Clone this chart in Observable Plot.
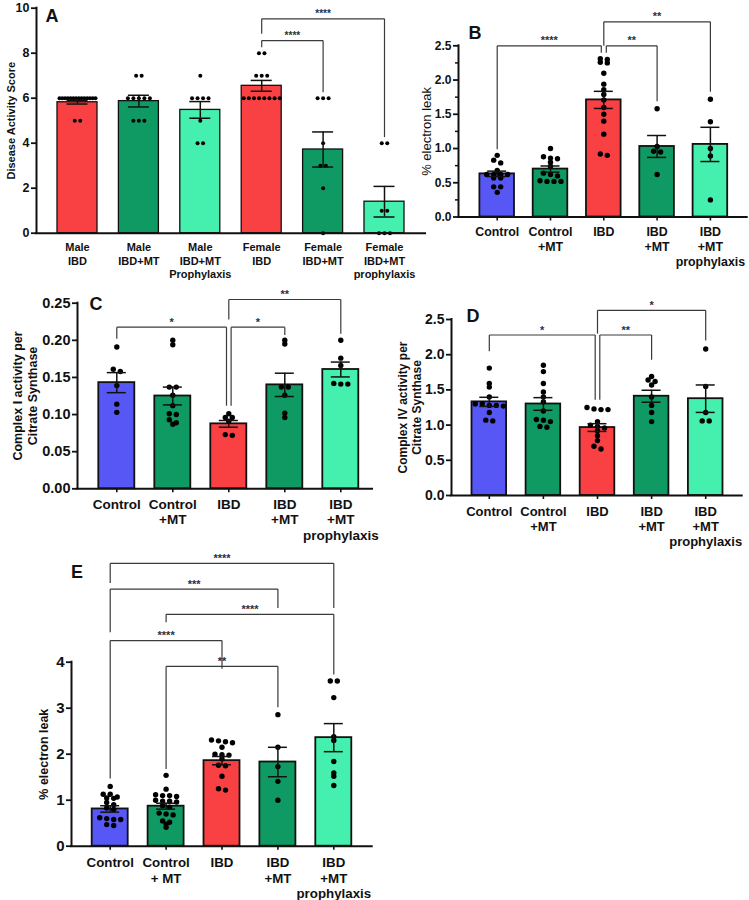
<!DOCTYPE html>
<html><head><meta charset="utf-8">
<script src="https://cdn.jsdelivr.net/npm/d3@7"></script>
<script src="https://cdn.jsdelivr.net/npm/@observablehq/plot@0.6"></script>
<style>
body{margin:0;background:#fff;font-family:"Liberation Sans",Arial,sans-serif;}
#root{position:relative;width:749px;height:900px;overflow:hidden;background:#fff;}
.panel{position:absolute;}
.letter{position:absolute;font:bold 18px "Liberation Sans",Arial,sans-serif;color:#111;transform:translate(-50%,-50%);line-height:1;}
</style></head><body><div id="root"></div>
<script>
// ---------- colours ----------
const RED = "#F94144", DKG = "#0E9A62", LTG = "#45EFAE", BLUE = "#5757F6";

// ---------- Panel A ----------
const catsA = ["Male\nIBD", "Male\nIBD+MT", "Male\nIBD+MT\nProphylaxis", "Female\nIBD", "Female\nIBD+MT", "Female\nIBD+MT\nprophylaxis"];
const meanA = [5.82, 5.87, 5.48, 6.55, 3.72, 1.40];
const semA = [0.08, 0.26, 0.37, 0.24, 0.78, 0.68];
const ptsA = [
  [6, 6, 6, 6, 6, 6, 6, 6, 6, 6, 6, 6, 6, 6, 5, 5],
  [7, 7, 6, 6, 6, 6, 6, 5, 5, 5],
  [7, 6, 6, 6, 6, 5, 4, 4],
  [8, 8, 7, 7, 7, 6, 6, 6, 6, 6, 6, 6, 6],
  [6, 6, 6, 4, 3, 3, 2, 0],
  [4, 4, 1, 1, 0, 0, 0]
];
const colorsA = [RED, DKG, LTG, RED, DKG, LTG];
const ticksA = [0, 2, 4, 6, 8, 10];
const compA = [
  {a: 3, b: 5, y: 9.53, ya: 8.86, yb: 4.27, label: "****"},
  {a: 3, b: 4, y: 8.56, ya: 8.27, yb: 6.27, label: "****"}
];

// ---------- Panel B ----------
const catsB = ["Control", "Control\n+MT", "IBD", "IBD\n+MT", "IBD\n+MT\nprophylaxis"];
const meanB = [0.63, 0.70, 1.71, 1.03, 1.06];
const semB = [0.04, 0.045, 0.125, 0.16, 0.25];
const ptsB = [
  [0.90, 0.83, 0.79, 0.68, 0.62, 0.62, 0.62, 0.62, 0.57, 0.57, 0.44, 0.44, 0.36],
  [1.00, 0.88, 0.86, 0.85, 0.80, 0.74, 0.64, 0.62, 0.60, 0.53, 0.52, 0.52, 0.52],
  [2.31, 2.30, 2.26, 2.25, 2.10, 1.94, 1.86, 1.79, 1.71, 1.60, 1.50, 1.40, 1.21, 0.92, 0.90],
  [1.58, 1.03, 0.96, 0.95, 0.62],
  [1.72, 1.39, 1.00, 0.89, 0.25]
];
const colorsB = [BLUE, DKG, RED, DKG, LTG];
const ticksB = [0, 0.5, 1.0, 1.5, 2.0, 2.5];
const minorB = [0.25, 0.75, 1.25, 1.75, 2.25];
const compB = [
  {a: 0, b: 2, y: 2.5, ya: 0.99, yb: 2.40, sa: 0, sb: -1, label: "****"},
  {a: 2, b: 3, y: 2.5, ya: 2.40, yb: 1.69, sa: 1, sb: 0, label: "**"},
  {a: 2, b: 4, y: 2.85, ya: 2.5, yb: 1.83, label: "**"}
];

// ---------- Panel C ----------
const catsC = ["Control", "Control\n+MT", "IBD", "IBD\n+MT", "IBD\n+MT\nprophylaxis"];
const meanC = [0.143, 0.125, 0.0875, 0.140, 0.1607];
const semC = [0.0135, 0.012, 0.0045, 0.0157, 0.010];
const ptsC = [
  [0.191, 0.161, 0.158, 0.139, 0.114, 0.103],
  [0.200, 0.194, 0.137, 0.137, 0.126, 0.112, 0.101, 0.100, 0.093, 0.089, 0.087],
  [0.101, 0.096, 0.096, 0.091, 0.073, 0.072],
  [0.200, 0.195, 0.137, 0.137, 0.126, 0.102, 0.096],
  [0.200, 0.176, 0.166, 0.142, 0.141, 0.141]
];
const colorsC = [BLUE, DKG, RED, DKG, LTG];
const ticksC = [0, 0.05, 0.10, 0.15, 0.20, 0.25];
const compC = [
  {a: 0, b: 2, y: 0.2177, ya: 0.202, yb: 0.112, sa: 0, sb: -1, label: "*"},
  {a: 2, b: 3, y: 0.2177, ya: 0.112, yb: 0.207, sa: 1, sb: 0, label: "*"},
  {a: 2, b: 4, y: 0.255, ya: 0.228, yb: 0.209, label: "**"}
];

// ---------- Panel D ----------
const catsD = ["Control", "Control\n+MT", "IBD", "IBD\n+MT", "IBD\n+MT\nprophylaxis"];
const meanD = [1.33, 1.30, 0.965, 1.41, 1.375];
const semD = [0.065, 0.09, 0.055, 0.085, 0.195];
const ptsD = [
  [1.81, 1.59, 1.54, 1.40, 1.30, 1.28, 1.27, 1.28, 1.30, 1.18, 1.07, 1.06],
  [1.85, 1.76, 1.59, 1.47, 1.40, 1.33, 1.20, 1.08, 1.07, 1.05, 0.98, 0.97],
  [1.25, 1.22, 1.23, 1.22, 1.05, 1.00, 0.98, 0.96, 0.92, 0.85, 0.78, 0.70, 0.66],
  [1.69, 1.64, 1.62, 1.57, 1.40, 1.28, 1.18, 1.05],
  [2.08, 1.55, 1.18, 1.06, 1.06]
];
const colorsD = [BLUE, DKG, RED, DKG, LTG];
const ticksD = [0, 0.5, 1.0, 1.5, 2.0, 2.5];
const compD = [
  {a: 0, b: 2, y: 2.28, ya: 2.05, yb: 1.36, sa: 0, sb: -1, label: "*"},
  {a: 2, b: 3, y: 2.28, ya: 1.36, yb: 1.93, sa: 1, sb: 0, label: "**"},
  {a: 2, b: 4, y: 2.63, ya: 2.30, yb: 2.20, label: "*"}
];

// ---------- Panel E ----------
const catsE = ["Control", "Control\n+ MT", "IBD", "IBD\n+MT", "IBD\n+MT\nprophylaxis"];
const meanE = [0.81, 0.87, 1.86, 1.83, 2.36];
const semE = [0.07, 0.065, 0.09, 0.32, 0.305];
const ptsE = [
  [1.30, 1.13, 1.13, 1.07, 1.05, 1.04, 0.95, 0.90, 0.83, 0.80, 0.62, 0.60, 0.58, 0.58, 0.47, 0.45],
  [1.54, 1.24, 1.12, 1.10, 1.10, 1.08, 1.00, 0.98, 0.98, 0.96, 0.88, 0.85, 0.72, 0.70, 0.68, 0.55, 0.52, 0.48, 0.41],
  [2.31, 2.29, 2.27, 2.25, 2.15, 2.00, 1.99, 1.98, 1.90, 1.76, 1.75, 1.52, 1.25, 1.22],
  [2.86, 2.15, 1.73, 1.41, 1.00],
  [3.59, 3.59, 3.23, 2.38, 2.30, 1.84, 1.59, 1.52, 1.32]
];
const colorsE = [BLUE, DKG, RED, DKG, LTG];
const ticksE = [0, 1, 2, 3, 4];
const compE = [
  {a: 0, b: 4, y: 6.15, ya: 5.72, yb: 5.18, label: "****"},
  {a: 0, b: 3, y: 5.59, ya: 4.65, yb: 5.18, label: "***"},
  {a: 1, b: 4, y: 5.04, ya: 4.87, yb: 3.73, label: "****"},
  {a: 0, b: 2, y: 4.47, ya: 1.47, yb: 3.86, label: "****"},
  {a: 1, b: 3, y: 3.91, ya: 1.68, yb: 3.02, label: "**"}
];

// ---------- rendering ----------
const FONT = '"Liberation Sans", Arial, Helvetica, sans-serif';

function swarm(vals, gi, pxPerUnit, stepPx, spacingPx, maxWidthPx, tolPx) {
  const sorted = vals.slice().sort((a, b) => b - a);
  const rows = [];
  for (const v of sorted) {
    const last = rows[rows.length - 1];
    if (last && (last.top - v) * pxPerUnit <= tolPx) last.items.push(v);
    else rows.push({top: v, items: [v]});
  }
  const out = [];
  for (const row of rows) {
    const m = row.items.length;
    const sp = m > 1 ? Math.min(spacingPx, maxWidthPx / (m - 1)) : 0;
    row.items.forEach((v, j) => out.push({x: gi + ((j - (m - 1) / 2) * sp) / stepPx, v}));
  }
  return out;
}

function drawPanel(p) {
  const L = p.layout;
  const n = p.cats.length;
  const lo = (L.axisLeft - L.c0) / L.step;
  const hi = (L.axisRight - L.c0) / L.step;
  const yMax = p.ticks[p.ticks.length - 1];
  const pxPerUnit = (L.y0px - L.yTopPx) / yMax;
  const hw = L.barHalf / L.step;
  const cw = L.capHalf / L.step;
  const bars = p.cats.map((c, i) => ({i, mean: p.means[i], sem: p.sems[i], color: p.colors[i]}));
  const dots = p.points.flatMap((vals, i) => swarm(vals, i, pxPerUnit, L.step, L.dotSpacing, L.barHalf * 1.8, L.tol));
  const gap = (L.legGap || 0) / L.step;
  const segs = [];
  const stars = [];
  p.comps.forEach(c => {
    const xa = c.a + (c.sa || 0) * gap, xb = c.b + (c.sb || 0) * gap;
    segs.push({x1: xa, y1: c.ya, x2: xa, y2: c.y});
    segs.push({x1: xa, y1: c.y, x2: xb, y2: c.y});
    segs.push({x1: xb, y1: c.y, x2: xb, y2: c.yb});
    stars.push({x: (xa + xb) / 2, y: c.y, label: c.label});
  });
  const marks = [
    Plot.rect(bars, {x1: d => d.i - hw, x2: d => d.i + hw, y1: 0, y2: "mean", fill: "color", stroke: "#111", strokeWidth: L.barStroke}),
    Plot.dot(dots, {x: "x", y: "v", r: L.dotR, fill: "#000", stroke: "none"}),
    Plot.ruleX(bars, {x: "i", y1: d => d.mean - d.sem, y2: d => d.mean + d.sem, stroke: "#111", strokeWidth: 1.5}),
    Plot.ruleY(bars, {y: d => d.mean + d.sem, x1: d => d.i - cw, x2: d => d.i + cw, stroke: "#111", strokeWidth: 1.5}),
    Plot.ruleY(bars, {y: d => d.mean - d.sem, x1: d => d.i - cw, x2: d => d.i + cw, stroke: "#111", strokeWidth: 1.5}),
    Plot.link(segs, {x1: "x1", y1: "y1", x2: "x2", y2: "y2", stroke: "#3a3a3a", strokeWidth: 1.2}),
    Plot.text(stars, {x: "x", y: "y", text: "label", dy: L.starDy, fontSize: L.starSize, fontWeight: "bold", fill: "#2b2f45", ariaLabel: "stars"}),
    Plot.axisY({ticks: p.ticks, tickFormat: p.tickFormat, tickSize: 5, tickPadding: 2, strokeWidth: 1.8, fontSize: L.tickFont, fontWeight: "bold", label: null}),
    Plot.axisX({ticks: d3.range(n), tickFormat: i => p.cats[i], tickSize: L.xTickSize, tickPadding: L.xTickPad, strokeWidth: 1.6, fontSize: L.catFont, fontWeight: "bold", lineHeight: L.lineHeight, label: null}),
    Plot.ruleY([0], {stroke: "#111", strokeWidth: 2, strokeLinecap: "square"}),
    Plot.ruleX([lo], {stroke: "#111", strokeWidth: 2, strokeLinecap: "square"}),
    Plot.text([p.yTitle], {frameAnchor: "left", text: d => d, rotate: -90, textAnchor: "middle", lineAnchor: "middle", dx: L.titleX - L.axisLeft, fontSize: L.titleFont, fontWeight: L.titleWeight, lineHeight: 1.2})
  ];
  if (p.minor) marks.push(Plot.axisY({ticks: p.minor, tickSize: 3, strokeWidth: 1.5, tickFormat: () => "", label: null}));
  const svg = Plot.plot({
    width: L.width, height: L.height,
    marginLeft: L.axisLeft - L.left, marginRight: L.left + L.width - L.axisRight,
    marginTop: L.yTopPx - L.top, marginBottom: L.top + L.height - L.y0px,
    x: {type: "linear", domain: [lo, hi]},
    y: {type: "linear", domain: [0, yMax]},
    color: {type: "identity"},
    style: {background: "none", overflow: "visible", fontFamily: FONT, color: "#111"},
    marks
  });
  svg.querySelectorAll('g[aria-label="stars"] text').forEach(t => t.setAttribute("letter-spacing", L.starSpacing + "px"));
  const div = document.createElement("div");
  div.className = "panel";
  div.style.left = L.left + "px";
  div.style.top = L.top + "px";
  div.style.width = L.width + "px";
  div.appendChild(svg);
  document.getElementById("root").appendChild(div);
  const letter = document.createElement("div");
  letter.className = "letter";
  letter.textContent = p.letter;
  letter.style.left = L.letterX + "px";
  letter.style.top = L.letterY + "px";
  document.getElementById("root").appendChild(letter);
}

const common = {barStroke: 1.8, dotR: 2.7, dotSpacing: 7, tol: 3, capHalf: 9.5, xTickSize: 4, starSize: 11, starDy: -5, starSpacing: 2, titleWeight: "bold"};

drawPanel({
  letter: "A", cats: catsA, means: meanA, sems: semA, points: ptsA, colors: colorsA, comps: compA,
  ticks: ticksA, tickFormat: d3.format("d"), yTitle: "Disease Activity Score",
  layout: {...common, left: 0, top: 0, width: 430, height: 285, axisLeft: 36, axisRight: 425, c0: 77, step: 61.4,
    y0px: 232.7, yTopPx: 7.7, barHalf: 20, capHalf: 10.5, barStroke: 1.3, dotR: 2.0, dotSpacing: 5.5, tol: 2,
    xTickSize: 0, xTickPad: 8.5, catFont: 11, lineHeight: 1.23, tickFont: 12.5, titleX: 10, titleFont: 11,
    starSize: 10, starDy: -5, starSpacing: 1.5, letterX: 52, letterY: 16}
});
drawPanel({
  letter: "B", cats: catsB, means: meanB, sems: semB, points: ptsB, colors: colorsB, comps: compB,
  ticks: ticksB, minor: minorB, tickFormat: d3.format(".1f"), yTitle: "% electron leak",
  layout: {...common, left: 375, top: 0, width: 374, height: 275, axisLeft: 458, axisRight: 746.7, c0: 496.7, step: 53.3,
    y0px: 216.5, yTopPx: 45.3, barHalf: 17.3, legGap: 2.5, xTickPad: 4.2, catFont: 12.4, lineHeight: 1.2, tickFont: 12,
    titleX: 425, titleFont: 13, titleWeight: "normal", letterX: 475, letterY: 33}
});
drawPanel({
  letter: "C", cats: catsC, means: meanC, sems: semC, points: ptsC, colors: colorsC, comps: compC,
  ticks: ticksC, tickFormat: d3.format(".2f"), yTitle: "Complex I activity per\nCitrate Synthase",
  layout: {...common, left: 0, top: 280, width: 375, height: 270, axisLeft: 77, axisRight: 372, c0: 116.3, step: 56,
    y0px: 488.3, yTopPx: 302.7, barHalf: 18, legGap: 2.3, xTickPad: 4.7, catFont: 13.5, lineHeight: 1.15, tickFont: 14.5,
    titleX: 24, titleFont: 12.5, letterX: 96, letterY: 304}
});
drawPanel({
  letter: "D", cats: catsD, means: meanD, sems: semD, points: ptsD, colors: colorsD, comps: compD,
  ticks: ticksD, tickFormat: d3.format(".1f"), yTitle: "Complex IV activity per\nCitrate Synthase",
  layout: {...common, left: 375, top: 280, width: 374, height: 270, axisLeft: 451, axisRight: 741.7, c0: 488.8, step: 54.1,
    y0px: 495, yTopPx: 319, barHalf: 17.3, legGap: 2.3, xTickPad: 5.7, catFont: 13, lineHeight: 1.15, tickFont: 14,
    titleX: 409, titleFont: 12, letterX: 473, letterY: 316}
});
drawPanel({
  letter: "E", cats: catsE, means: meanE, sems: semE, points: ptsE, colors: colorsE, comps: compE,
  ticks: ticksE, tickFormat: d3.format("d"), yTitle: "% electron leak",
  layout: {...common, left: 0, top: 550, width: 375, height: 350, axisLeft: 71, axisRight: 371.7, c0: 109.7, step: 55.9,
    y0px: 845.7, yTopPx: 661.7, barHalf: 18, xTickPad: 5.6, catFont: 13.3, lineHeight: 1.18, tickFont: 15,
    titleX: 43, titleFont: 12.5, letterX: 77, letterY: 572}
});
</script></body></html>
